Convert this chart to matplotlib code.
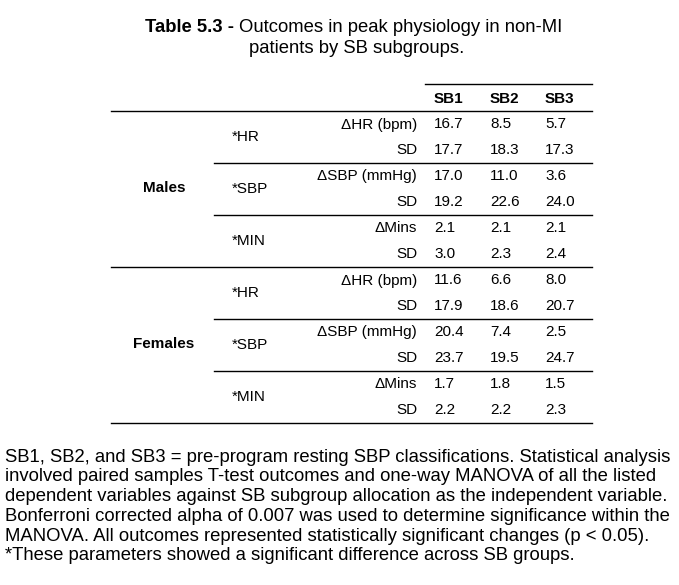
import matplotlib.pyplot as plt

plt.rcParams['font.family'] = ['Liberation Sans', 'DejaVu Sans']

groups = ['SB1', 'SB2', 'SB3']
sexes = ['Males', 'Females']
params = ['*HR', '*SBP', '*MIN']
row_labels = ['\u0394HR (bpm)', 'SD', '\u0394SBP (mmHg)', 'SD', '\u0394Mins', 'SD']

males = [
    ['16.7', '8.5', '5.7'],
    ['17.7', '18.3', '17.3'],
    ['17.0', '11.0', '3.6'],
    ['19.2', '22.6', '24.0'],
    ['2.1', '2.1', '2.1'],
    ['3.0', '2.3', '2.4'],
]
females = [
    ['11.6', '6.6', '8.0'],
    ['17.9', '18.6', '20.7'],
    ['20.4', '7.4', '2.5'],
    ['23.7', '19.5', '24.7'],
    ['1.7', '1.8', '1.5'],
    ['2.2', '2.2', '2.3'],
]

title_bold = 'Table 5.3 - '
title_rest = 'Outcomes in peak physiology in non-MI'
title_line2 = 'patients by SB subgroups.'

footnote = [
    'SB1, SB2, and SB3 = pre-program resting SBP classifications. Statistical analysis',
    'involved paired samples T-test outcomes and one-way MANOVA of all the listed',
    'dependent variables against SB subgroup allocation as the independent variable.',
    'Bonferroni corrected alpha of 0.007 was used to determine significance within the',
    'MANOVA. All outcomes represented statistically significant changes (p < 0.05).',
    '*These parameters showed a significant difference across SB groups.',
]

W, H = 679, 585
fig = plt.figure(figsize=(W / 100, H / 100), dpi=100)
ax = fig.add_axes([0, 0, 1, 1])
ax.set_xlim(0, W)
ax.set_ylim(H, 0)
ax.axis('off')

fs = 11        # table text
fs_big = 13.3  # title and footnote
lw = 1.0

# title, bold part followed by normal part, centred as one line
r = fig.canvas.get_renderer()
t1 = ax.text(0, 32, title_bold, ha='left', va='baseline', fontsize=fs_big,
             fontweight='bold')
t2 = ax.text(0, 32, title_rest, ha='left', va='baseline', fontsize=fs_big)
w1 = t1.get_window_extent(r).width
w2 = t2.get_window_extent(r).width
x0 = 354 - (w1 + w2) / 2
t1.set_x(x0)
t2.set_x(x0 + w1)
ax.text(357, 53, title_line2, ha='center', va='baseline', fontsize=fs_big)

# header
ax.plot([425, 592], [84, 84], color='black', lw=lw)
col_x = [434, 490, 545]
for x, g in zip(col_x, groups):
    ax.text(x, 99, g, ha='left', va='center', fontsize=fs, fontweight='bold')
ax.plot([111, 592], [111, 111], color='black', lw=lw)

row_h = 25.9
block_top = [111, 267]
for b, (sex, data) in enumerate(zip(sexes, [males, females])):
    top = block_top[b]
    for i in range(6):
        y = top + 13.5 + i * row_h
        ax.text(417, y, row_labels[i], ha='right', va='center', fontsize=fs)
        for x, v in zip(col_x, data[i]):
            ax.text(x, y, v, ha='left', va='center', fontsize=fs)
    for k, p in enumerate(params):
        yc = top + 26 + k * 2 * row_h
        ax.text(232, yc, p, ha='left', va='center', fontsize=fs)
        if k > 0:
            ys = top + k * 2 * row_h
            ax.plot([214, 592], [ys, ys], color='black', lw=lw)
    ax.text(164, top + 77, sex, ha='center', va='center', fontsize=fs,
            fontweight='bold')
    ax.plot([111, 592], [top + 156, top + 156], color='black', lw=lw)

for i, line in enumerate(footnote):
    ax.text(5, 461.5 + i * 19.8, line, ha='left', va='baseline', fontsize=fs_big)

fig.savefig('out.png', dpi=100)
